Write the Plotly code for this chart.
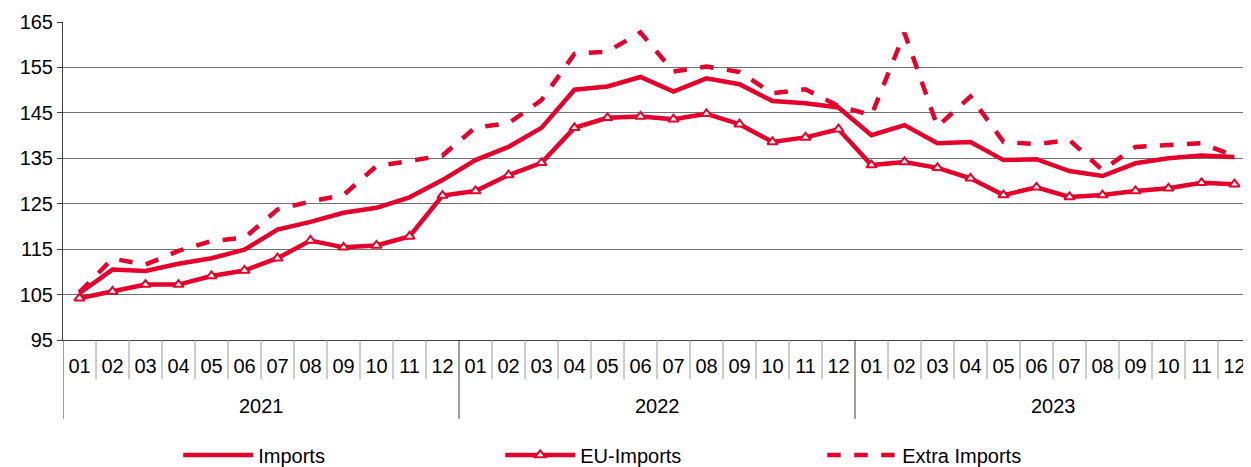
import plotly.graph_objects as go

years = ["2021", "2022", "2023"]
months = ["01", "02", "03", "04", "05", "06", "07", "08", "09", "10", "11", "12"]

imports = [105.3, 110.5, 110.2, 111.8, 113.0, 114.9, 119.3, 121.0, 123.0, 124.1, 126.4, 130.2,
           134.6, 137.5, 141.7, 150.1, 150.8, 152.9, 149.7, 152.6, 151.3, 147.6, 147.1, 146.2,
           140.1, 142.3, 138.3, 138.6, 134.6, 134.8, 132.2, 131.1, 133.9, 135.0, 135.6, 135.3]
eu_imports = [104.2, 105.7, 107.2, 107.2, 109.1, 110.3, 113.0, 116.9, 115.4, 115.8, 117.8, 126.8,
              127.8, 131.3, 134.0, 141.7, 143.9, 144.2, 143.6, 144.8, 142.5, 138.6, 139.6, 141.4,
              133.5, 134.2, 132.9, 130.6, 126.9, 128.6, 126.5, 126.9, 127.8, 128.4, 129.6, 129.3]
extra_imports = [105.5, 112.9, 111.6, 114.6, 116.8, 117.5, 123.7, 125.5, 126.9, 133.3, 134.4, 135.6,
                 141.8, 142.7, 147.8, 158.0, 158.5, 162.7, 154.1, 155.2, 154.0, 149.3, 150.2, 146.5,
                 144.5, 162.6, 142.0, 148.6, 138.6, 138.1, 139.0, 132.4, 137.5, 137.9, 138.3, 135.5]

RED = "#E4002B"
FONT = "Liberation Sans, Arial, sans-serif"

labels = [m for y in years for m in months]
x = list(range(len(labels)))

fig = go.Figure()
fig.add_trace(go.Scatter(x=x, y=imports, mode="lines", name="Imports",
                         line=dict(color=RED, width=4.5)))
fig.add_trace(go.Scatter(x=x, y=eu_imports, mode="lines+markers", name="EU-Imports",
                         line=dict(color=RED, width=4.5),
                         marker=dict(symbol="triangle-up", size=9, color="white",
                                     line=dict(color=RED, width=2))))
fig.add_trace(go.Scatter(x=x, y=extra_imports, mode="lines", name="Extra Imports",
                         line=dict(color=RED, width=4.5, dash="dash")))

# separators under the axis: short ones between months, long ones between years
for i in range(len(labels) + 1):
    long_line = i % 12 == 0
    fig.add_shape(type="line", xref="x", yref="paper", x0=i - 0.5, x1=i - 0.5,
                  y0=0, y1=-0.248 if long_line else -0.123,
                  line=dict(color="#404040" if long_line else "#9a9a9a", width=1))

for k, yr in enumerate(years):
    fig.add_annotation(x=k * 12 + 5.5, y=-0.207, xref="x", yref="paper", text=yr,
                       yanchor="middle", showarrow=False,
                       font=dict(size=20, color="black", family=FONT))

fig.update_xaxes(range=[-0.5, len(labels) - 0.5], tickvals=x, ticktext=labels,
                 ticks="outside", ticklen=8, tickcolor="rgba(0,0,0,0)", automargin=False,
                 showgrid=False, zeroline=False, showline=True, linecolor="#404040", linewidth=1,
                 tickfont=dict(size=20, color="black", family=FONT))
fig.update_yaxes(range=[95, 165], dtick=10, tick0=95, showgrid=True, gridcolor="#707070",
                 gridwidth=1, zeroline=False, showline=True, linecolor="#404040", linewidth=1,
                 mirror=True, ticks="outside", ticklen=5, tickcolor="#404040", automargin=False,
                 tickfont=dict(size=20, color="black", family=FONT))

# the page body adds an 8px margin; the figure is a bit taller than the window so the
# legend does not push the plot area up
fig.update_layout(
    width=1251, height=485,
    margin=dict(l=55, r=8, t=14, b=153, autoexpand=False),
    paper_bgcolor="white", plot_bgcolor="white",
    font=dict(family=FONT, color="black"),
    showlegend=True,
    legend=dict(orientation="h", x=0.097, y=-0.3616, xanchor="left", yanchor="middle",
                font=dict(size=20, family=FONT), itemwidth=70,
                entrywidth=237, entrywidthmode="pixels",
                bgcolor="rgba(0,0,0,0)"),
)

fig.write_html("out.html")
